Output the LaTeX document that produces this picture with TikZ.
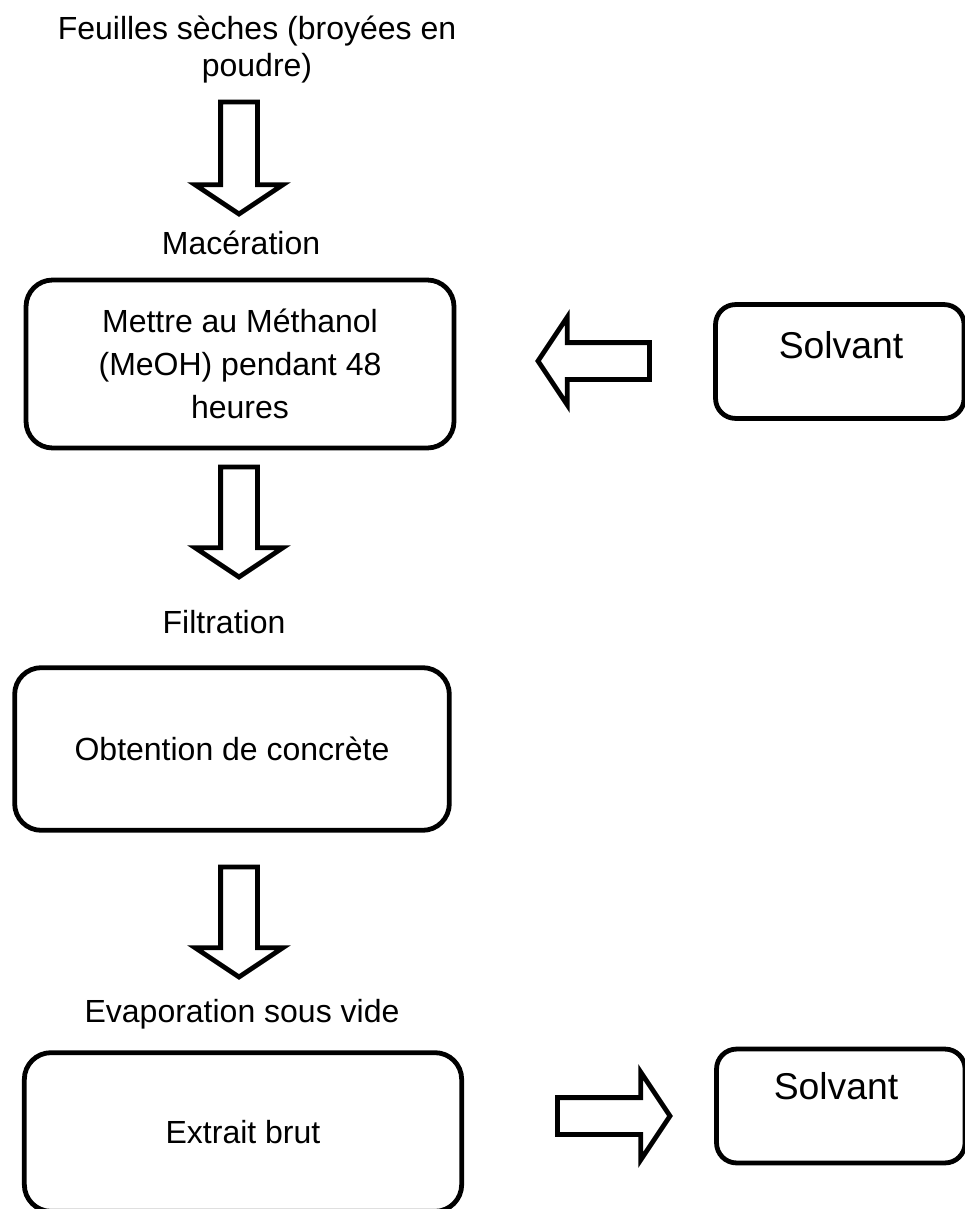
\documentclass[tikz,border=0pt]{standalone}
\usepackage{fontspec}
\setmainfont{Liberation Sans}
\usetikzlibrary{calc}

% grosse flèche creuse de #1 (queue) vers #2 (pointe)
\newcommand{\grossefleche}[2]{%
    \coordinate (fq) at ($(#2)!11pt!(#1)$);
    \draw[fleche] ($(#1)!6.9pt!90:(#2)$) -- ($(fq)!6.9pt!90:(#2)$)
        -- ($(fq)!16.5pt!90:(#2)$) -- (#2) -- ($(fq)!16.5pt!-90:(#2)$)
        -- ($(fq)!6.9pt!-90:(#2)$) -- ($(#1)!6.9pt!-90:(#2)$) -- cycle;
}

\begin{document}
\begin{tikzpicture}[
    x=0.375pt, y=-0.375pt,
    boite/.style={
        draw,
        line width=1.8pt,
        rounded corners=10pt,
        align=center,
        font=\fontsize{12}{16}\selectfont
    },
    petiteboite/.style={
        boite,
        rounded corners=7.5pt,
        minimum width=93.2pt,
        minimum height=42.7pt
    },
    texte/.style={font=\fontsize{12}{14}\selectfont, align=center},
    titre/.style={font=\fontsize{14}{16}\selectfont},
    fleche/.style={draw, line width=1.8pt, fill=white}
]
    \useasboundingbox (0,0) rectangle (965,1209);

    \node[texte, font=\fontsize{12}{13.9}\selectfont] (feuilles) at (257,50)
        {Feuilles sèches (broyées en\\poudre)};
    \node[texte] (maceration) at (241,243) {Macération};
    \node[boite, minimum width=160.5pt, minimum height=63pt]
        (methanol) at (240,364)
        {Mettre au Méthanol\\(MeOH) pendant 48\\heures};

    \node[texte] (filtration) at (224,622) {Filtration};
    \node[boite, minimum width=163pt, minimum height=61pt]
        (concrete) at (232,749) {Obtention de concrète};

    \node[texte] (evaporation) at (242,1014) {Evaporation sous vide};
    \node[boite, minimum width=164pt, minimum height=59.5pt]
        (extrait) at (243,1132) {Extrait brut};

    \node[petiteboite] (solvant1) at (839.8,361.5) {};
    \node[titre] (tsolvant1) at (841,345) {Solvant};
    \node[petiteboite] (solvant2) at (840.8,1106) {};
    \node[titre] (tsolvant2) at (836,1086) {Solvant};

    \coordinate (f1a) at (239,102);
    \coordinate (f1b) at (239,214);
    \coordinate (f2a) at (239,467);
    \coordinate (f2b) at (239,577);
    \coordinate (f3a) at (239,867);
    \coordinate (f3b) at (239,977);
    \coordinate (f4a) at (649.5,361);
    \coordinate (f4b) at (538,361);
    \coordinate (f5a) at (557.5,1116);
    \coordinate (f5b) at (670,1116);

    \grossefleche{f1a}{f1b}
    \grossefleche{f2a}{f2b}
    \grossefleche{f3a}{f3b}
    \grossefleche{f4a}{f4b}
    \grossefleche{f5a}{f5b}
\end{tikzpicture}
\end{document}
